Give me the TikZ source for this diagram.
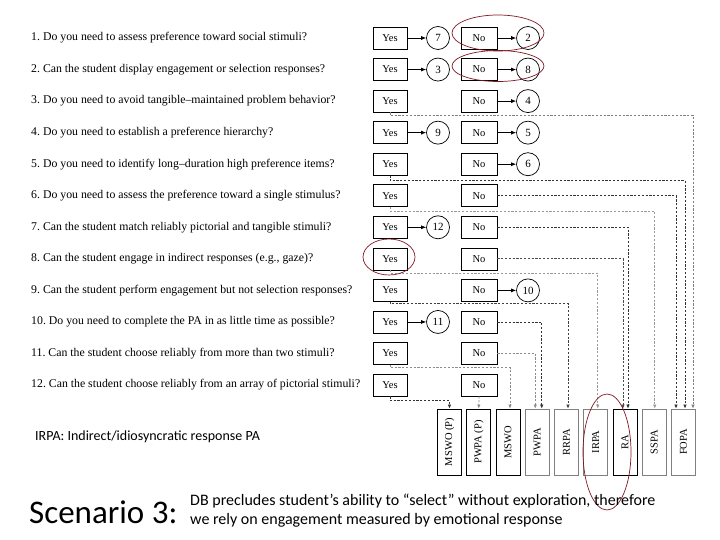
\documentclass[tikz,border=0pt]{standalone}
\usepackage{fontspec}
\usepackage{graphicx}
\setmainfont{Liberation Serif}
\newfontfamily\slidefont{Carlito}
\usepackage{tikz}
\usetikzlibrary{arrows.meta}
\definecolor{markred}{RGB}{128,22,34}
\tikzset{
  answer/.style={draw,line width=0.7pt,minimum width=34pt,minimum height=22pt,inner sep=0pt,font=\fontsize{10.5}{12}\selectfont},
  pick/.style={draw,circle,line width=0.7pt,minimum size=23pt,inner sep=0pt,font=\fontsize{11}{12}\selectfont},
  method/.style={draw,line width=0.8pt,minimum width=24pt,minimum height=66pt,inner sep=0pt,font=\fontsize{10.5}{12}\selectfont},
  lead/.style={-{Latex[length=5pt,width=4pt]},line width=0.7pt},
  route/.style={-{Latex[length=4pt,width=3.5pt]},dash pattern=on 2.2pt off 1.6pt,line width=0.75pt},
  ring/.style={draw=markred,line width=0.7pt}
}

\begin{document}
\begin{tikzpicture}[x=1pt,y=-1pt]
  \useasboundingbox (0,0) rectangle (720,540);

  % questions with their yes / no boxes
  \foreach \r/\q in {1/{Do you need to assess preference toward social stimuli?},
      2/{Can the student display engagement or selection responses?},
      3/{Do you need to avoid tangible--maintained problem behavior?},
      4/{Do you need to establish a preference hierarchy?},
      5/{Do you need to identify long--duration high preference items?},
      6/{Do you need to assess the preference toward a single stimulus?},
      7/{Can the student match reliably pictorial and tangible stimuli?},
      8/{Can the student engage in indirect responses (e.g., gaze)?},
      9/{Can the student perform engagement but not selection responses?},
      10/{Do you need to complete the PA in as little time as possible?},
      11/{Can the student choose reliably from more than two stimuli?},
      12/{Can the student choose reliably from an array of pictorial stimuli?}} {
    \pgfmathsetmacro\y{38+(\r-1)*31.55}
    \node[anchor=west,inner sep=0pt,font=\fontsize{11.8}{13}\selectfont] (q\r) at (31,\y) {\r.\ \q};
    \node[answer] (y\r) at (390,\y) {Yes};
    \node[answer,minimum width=36pt] (n\r) at (479,\y) {No};
  }

  % numbered circles
  \foreach \r/\k in {1/7,2/3,4/9,7/12,10/11} {
    \node[pick] (c\k) at ([xshift=48pt]y\r.center) {\k};
    \draw[lead] (y\r) -- (c\k);
  }
  \foreach \r/\k in {1/2,2/8,3/4,4/5,5/6,9/10} {
    \node[pick] (c\k) at ([xshift=49pt]n\r.center) {\k};
    \draw[lead] (n\r) -- (c\k);
  }

  % assessment methods
  \foreach \i/\m/\c in {1/{MSWO (P)}/black,2/{PWPA (P)}/black,3/MSWO/black,4/PWPA/gray,
      5/RRPA/gray,6/IRPA/gray,7/RA/black,8/SSPA/gray,9/FOPA/gray} {
    \node[method,draw=\c] (b\i) at ({449.5+(\i-1)*29.25},442) {\rotatebox{90}{\m}};
  }

  % dashed routes
  \foreach \r/\d/\b/\s/\c in {3/3/9/9.5/gray,5/5/9/1.5/black!80,6/4/8/0.5/gray!80,
      8/3/6/2/gray!80,9/2/5/1.5/black!75,11/3/3/2/gray!90,12/4/1/0/black!80} {
    \draw[route,\c] (y\r.south) -- ++(0,\d) -| ([xshift=\s pt]b\b.north);
  }
  \foreach \r/\b/\s/\c in {6/9/-7.5/black!80,7/7/3/black!80,8/7/-2/black!70,
      10/4/4.5/black!80,11/4/-2/gray!90} {
    \draw[route,\c] (n\r.east) -| ([xshift=\s pt]b\b.north);
  }
  \draw[route,gray!90] (n12.south) -- (b2.north);

  % highlights
  \draw[ring] (498,33) ellipse [x radius=46, y radius=18];
  \draw[ring] (498,66) ellipse [x radius=46, y radius=15.5];
  \draw[ring] (389,257) ellipse [x radius=26, y radius=18];
  \draw[ring] (607,452) ellipse [x radius=24, y radius=58];

  % slide texts
  \node[anchor=west,inner sep=0pt,font=\slidefont\fontsize{14}{16}\selectfont] (key) at (35,437) {IRPA: Indirect/idiosyncratic response PA};
  \node[anchor=west,inner sep=0pt,font=\slidefont\fontsize{33}{35}\selectfont] (scen) at (29,512) {Scenario 3:};
  \node[anchor=north west,inner sep=0pt,align=left,font=\slidefont\fontsize{16}{19}\selectfont] (note) at (190,494)
    {DB precludes student’s ability to “select” without exploration, therefore\\we rely on engagement measured by emotional response};
\end{tikzpicture}
\end{document}
